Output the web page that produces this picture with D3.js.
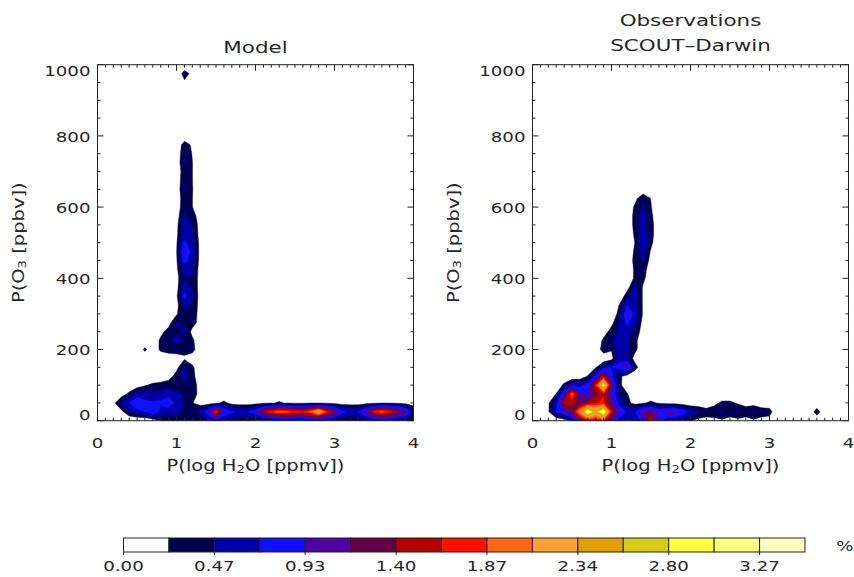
<!DOCTYPE html>
<html>
<head>
<meta charset="utf-8">
<script src="https://cdn.jsdelivr.net/npm/d3@7"></script>
<style>
  body { margin: 0; background: #fff; }
  svg { display: block; }
  text { font-family: "DejaVu Sans", sans-serif; fill: #262626; }
</style>
</head>
<body>
<svg id="chart" width="854" height="577"></svg>
<script>
// ---- joint frequency distributions (% of samples) ----
// Each row: [O3 (ppbv), first log H2O bin, frequencies in successive 0.1 bins]
const h2oStep = 0.1;   // log10 H2O bin width
const o3Step = 25;     // O3 bin width (ppbv)
const h2oMax = 4;
const o3Max = 1000;

const modelRows = [
  [0,   0.7, [0.05,0.25,0.35,0.35,0.3,0.3,0.35,0.4,0.55,0.45,0.35,0.3,0.25,0.2,0.2,0.22,0.3,0.35,0.35,0.35,0.4,0.45,0.4,0.3,0.25,0.25,0.3,0.35,0.4,0.45,0.4,0.35,0.3,0.2]],
  [25,  0.3, [0.15,0.45,0.6,0.7,0.95,0.6,0.5,0.55,0.4,0.3,0.55,0.9,1.85,0.95,0.75,0.65,0.7,0.9,1.5,1.8,1.95,1.9,1.75,1.7,1.95,2.5,1.75,1.3,0.8,0.65,0.7,1.1,1.7,1.95,1.7,1.45,1.1,0.5]],
  [50,  0.2, [0.15,0.5,0.7,0.95,0.75,0.75,0.75,0.95,0.6,0.45,0.25,0.1,0.12,0.18,0.3,0.15,0.12,0.12,0.15,0.18,0.2,0.28,0.2,0.18,0.18,0.2,0.2,0.18,0.15,0.12,0.12,0.12,0.15,0.18,0.2,0.2,0.18,0.15,0.1]],
  [75,  0.3, [0.1,0.3,0.55,0.6,0.5,0.55,0.6,0.5,0.45,0.35,0.15]],
  [100, 0.5, [0.1,0.2,0.3,0.35,0.4,0.4,0.45,0.4,0.1]],
  [125, 0.9, [0.1,0.35,0.55,0.35]],
  [150, 1.0, [0.15,0.5,0.3]],
  [175, 1.0, [0.05,0.2,0.05]],
  [200, 0.6, [0.3,0,0.3,0.4,0.4,0.3,0.35]],
  [225, 0.8, [0.3,0.45,0.5,0.45,0.3]],
  [250, 0.8, [0.15,0.35,0.45,0.5,0.15]],
  [275, 0.9, [0.12,0.5,0.45,0.35,0.12]],
  [300, 1.0, [0.2,0.45,0.4,0.12]],
  [325, 1.0, [0.15,0.5,0.45,0.12]],
  [350, 1.0, [0.18,0.8,0.5,0.12]],
  [375, 1.0, [0.15,0.55,0.45,0.12]],
  [400, 1.0, [0.15,0.45,0.45,0.12]],
  [425, 1.0, [0.18,0.55,0.5,0.12]],
  [450, 1.0, [0.2,0.8,0.55,0.15]],
  [475, 1.0, [0.22,1.0,0.6,0.15]],
  [500, 1.0, [0.2,0.75,0.55,0.15]],
  [525, 1.0, [0.18,0.55,0.5,0.12]],
  [550, 1.0, [0.15,0.6,0.45,0.12]],
  [575, 1.0, [0.1,0.5,0.35,0.1]],
  [600, 1.0, [0.03,0.45,0.24]],
  [625, 1.0, [0.03,0.42,0.24]],
  [650, 1.0, [0.03,0.5,0.25]],
  [675, 1.0, [0.03,0.45,0.24]],
  [700, 1.0, [0.03,0.4,0.24]],
  [725, 1.0, [0.03,0.5,0.24]],
  [750, 1.0, [0.02,0.45,0.22]],
  [775, 1.1, [0.38,0.18]],
  [825, 1.1, [0.22,0.1]],
  [950, 1.1, [0.18,0.05]],
  [975, 1.1, [0.36,0.15]]
];

const obsRows = [
  [0,   0.3, [0.0,0.05,0.4,1.1,1.6,1.5,1.7,1.0,0.55,0.5,0.55,0.8,1.75,0.8,0.5,0.45,0.35,0.25,0.15,0.15,0.15,0.18,0.15,0.15,0.15,0.18,0.15,0.1]],
  [25,  0.2, [0.2,0.7,0.95,1.3,2.2,3.1,2.5,3.15,1.6,0.95,0.65,0.7,1.15,1.2,0.9,1.05,1.1,0.9,0.6,0.5,0.35,0.4,0.5,0.35,0.5,0.35,0.5,0.35,0.35]],
  [25,  3.6, [0.38]],
  [50,  0.2, [0.2,0.55,1.45,1.5,1.2,1.4,1.6,1.7,1.1,0.6,0.3,0.15,0.2,0.3,0.2,0.15,0.15,0.1,0.05,0.05,0.05,0.15,0.3,0.3,0.2,0.15,0.12,0.1,0.05]],
  [75,  0.3, [0.25,1.0,2.0,1.0,0.9,1.3,1.6,0.9,0.5,0.25,0.05]],
  [100, 0.4, [0.3,0.7,0.6,0.8,1.7,2.95,1.2,0.3,0.05]],
  [125, 0.6, [0.05,0.25,0.8,1.5,0.8,0.3,0.1]],
  [150, 0.8, [0.2,0.6,0.7,0.8,1.2,0.35]],
  [175, 1.0, [0.15,0.6,0.5,0.1]],
  [200, 0.9, [0.4,0.25,0.6,0.5,0.3,0.05]],
  [225, 0.9, [0.3,0.45,0.55,0.5,0.3,0.05]],
  [250, 0.9, [0.1,0.35,0.5,0.6,0.4,0.1]],
  [275, 1.0, [0.15,0.5,0.75,0.5,0.15]],
  [300, 1.0, [0.1,0.3,1.05,0.6,0.2]],
  [325, 1.1, [0.25,0.7,0.55,0.2]],
  [350, 1.2, [0.4,0.55,0.2]],
  [375, 1.2, [0.12,0.55,0.2]],
  [400, 1.3, [0.3,0.3,0.05]],
  [425, 1.3, [0.3,0.35,0.08]],
  [450, 1.3, [0.35,0.5,0.12]],
  [475, 1.3, [0.3,0.55,0.2]],
  [500, 1.3, [0.25,0.7,0.3]],
  [525, 1.3, [0.3,0.6,0.35]],
  [550, 1.3, [0.35,0.55,0.35]],
  [575, 1.3, [0.35,0.55,0.3]],
  [600, 1.3, [0.3,0.5,0.25]],
  [625, 1.3, [0.15,0.45,0.22]]
];

// contour levels (%) and their fill colours
const levelValues = [0.000,0.2335,0.467,0.7005,0.934,1.1675,1.401,1.6345,1.868,2.1015,2.335,2.5685,2.802,3.0355,3.269,3.5025];
const levelColors = ["#ffffff","#000050","#0000aa","#1010ff","#5200a2","#640048","#b60000","#ff1000","#ff6618","#ffa234","#e0a000","#d4cc18","#ffff40","#ffff80","#ffffc0"];
const levelTickLabels = ["0.00","0.47","0.93","1.40","1.87","2.34","2.80","3.27"];

const h2oTicks = [0, 1, 2, 3, 4];
const o3Ticks = [0, 200, 400, 600, 800, 1000];

// ---- layout ----
const svg = d3.select("#chart");
const SX = 1.3;            // horizontal stretch of the lettering
const plotW = 316, plotTop = 64.7, plotH = 356;
const panels = [
  { left: 97.5,  title: ["Model"], titleY: [47], rows: modelRows, id: "m" },
  { left: 532.5, title: ["Observations", "SCOUT\u2013Darwin"], titleY: [20, 45], rows: obsRows, id: "o" }
];

const nx = Math.round(h2oMax / h2oStep) + 1;
const ny = Math.round(o3Max / o3Step) + 1;

function buildGrid(rows) {
  const g = new Array(nx * ny).fill(0);
  rows.forEach(([o3, h0, vals]) => {
    const j = Math.round(o3 / o3Step), i0 = Math.round(h0 / h2oStep);
    vals.forEach((v, k) => { g[j * nx + i0 + k] = v; });
  });
  return g;
}

function txt(g, x, y, s, size, anchor, rotate) {
  return g.append("text")
    .attr("transform", `translate(${x},${y}) rotate(${rotate || 0}) scale(${SX},1)`)
    .attr("text-anchor", anchor || "middle")
    .attr("dominant-baseline", "central")
    .attr("font-size", size)
    .text(s);
}

// text made of [string, isSubscript] pieces
function subText(g, x, y, parts, size, rotate) {
  const t = g.append("text")
    .attr("transform", `translate(${x},${y}) rotate(${rotate || 0}) scale(${SX},1)`)
    .attr("text-anchor", "middle")
    .attr("dominant-baseline", "central")
    .attr("font-size", size);
  let prevSub = false;
  parts.forEach(([s, sub]) => {
    const ts = t.append("tspan").text(s);
    if (sub) ts.attr("font-size", size * 0.68).attr("dy", 4);
    else if (prevSub) ts.attr("dy", -4);
    prevSub = !!sub;
  });
  return t;
}

panels.forEach(p => {
  const x = d3.scaleLinear().domain([0, h2oMax]).range([p.left, p.left + plotW]);
  const y = d3.scaleLinear().domain([0, o3Max]).range([plotTop + plotH, plotTop]);
  const g = svg.append("g");

  g.append("clipPath").attr("id", "clip-" + p.id)
    .append("rect").attr("x", p.left).attr("y", plotTop).attr("width", plotW).attr("height", plotH);

  // filled contours
  const grid = buildGrid(p.rows);
  const contours = d3.contours().size([nx, ny]).thresholds(levelValues.slice(1, 15))(grid);
  const proj = d3.geoTransform({
    point(cx, cy) { this.stream.point(x(h2oStep * (cx - 0.5)), y(o3Step * (cy - 0.5))); }
  });
  const path = d3.geoPath(proj);
  g.append("g").attr("clip-path", `url(#clip-${p.id})`)
    .selectAll("path").data(contours).join("path")
    .attr("d", path)
    .attr("fill", (d, i) => levelColors[i + 1])
    .attr("stroke", (d, i) => levelColors[i + 1])
    .attr("stroke-width", 0.4);

  // frame and ticks
  const ax = g.append("g").attr("stroke", "#222").attr("stroke-width", 1).attr("fill", "none");
  ax.append("rect").attr("x", p.left).attr("y", plotTop).attr("width", plotW).attr("height", plotH);

  const xMinor = d3.range(0, h2oMax * 10 + 1).map(k => k / 10);
  const yMinor = d3.range(0, o3Max + 1, 50);
  const bottom = plotTop + plotH, right = p.left + plotW;
  xMinor.forEach(v => {
    const len = h2oTicks.includes(v) ? 6 : 3;
    ax.append("line").attr("x1", x(v)).attr("x2", x(v)).attr("y1", bottom).attr("y2", bottom - len);
    ax.append("line").attr("x1", x(v)).attr("x2", x(v)).attr("y1", plotTop).attr("y2", plotTop + len);
  });
  yMinor.forEach(v => {
    const len = o3Ticks.includes(v) ? 6 : 3;
    ax.append("line").attr("x1", p.left).attr("x2", p.left + len).attr("y1", y(v)).attr("y2", y(v));
    ax.append("line").attr("x1", right).attr("x2", right - len).attr("y1", y(v)).attr("y2", y(v));
  });

  // tick labels
  h2oTicks.forEach(v => txt(g, x(v), 443, String(v), 14));
  o3Ticks.forEach(v => {
    const off = v === o3Max ? 7 : (v === 0 ? -5 : 1);
    txt(g, p.left - 7, y(v) + off, String(v), 14, "end");
  });

  // axis titles
  subText(g, p.left + plotW / 2, 466, [["P(log H"], ["2", true], ["O [ppmv])"]], 15);
  subText(g, p.left - 79, plotTop + plotH / 2, [["P(O"], ["3", true], [" [ppbv])"]], 15, -90);

  // panel title
  p.title.forEach((s, k) => txt(g, p.left + plotW / 2, p.titleY[k], s, 16.5));
});

// ---- colour bar ----
const cb = d3.scaleLinear().domain([levelValues[0], levelValues[15]]).range([123.5, 805]);
const cbTop = 538, cbH = 14;
const cbg = svg.append("g");
levelColors.forEach((c, k) => {
  cbg.append("rect")
    .attr("x", cb(levelValues[k])).attr("y", cbTop)
    .attr("width", cb(levelValues[k + 1]) - cb(levelValues[k])).attr("height", cbH)
    .attr("fill", c).attr("stroke", "#222").attr("stroke-width", 1);
});
levelTickLabels.forEach((s, m) => {
  const v = levelValues[2 * m];
  cbg.append("line").attr("x1", cb(v)).attr("x2", cb(v))
    .attr("y1", cbTop + cbH).attr("y2", cbTop + cbH + 3).attr("stroke", "#222");
  txt(cbg, cb(v), 566, s, 14);
});
txt(cbg, 845, 546, "%", 14);
</script>
</body>
</html>
